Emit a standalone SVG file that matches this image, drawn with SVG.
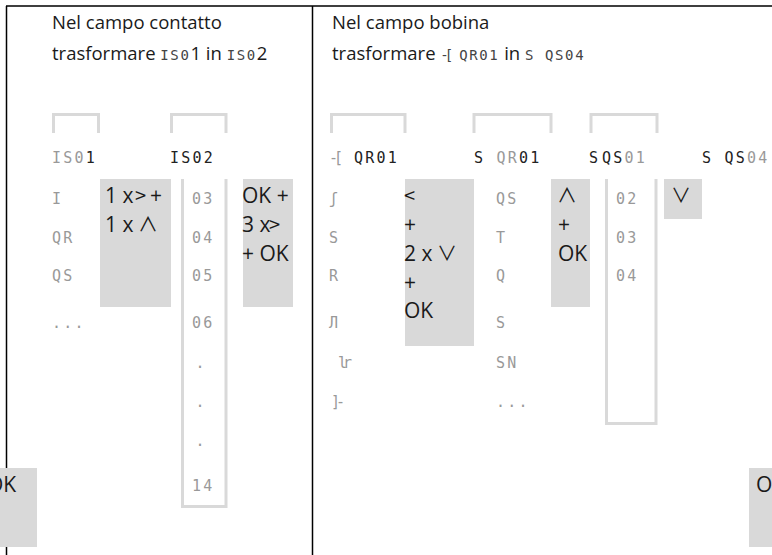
<svg xmlns="http://www.w3.org/2000/svg" width="772" height="555" viewBox="0 0 772 555">
<style>
.bg{fill:#fff}
.rule{stroke:#000;stroke-width:1.5;fill:none}
.box{fill:#d9d9d9}
.frame{fill:none;stroke:#d9d9d9;stroke-width:3}
.hdr{font-family:'Open Sans','Liberation Sans',sans-serif;font-size:18.5px;fill:#1a1a1a}
.key{font-family:'Open Sans','Liberation Sans',sans-serif;font-size:21px;fill:#1a1a1a}
.sym{font-family:'Noto Sans CJK JP','DejaVu Sans',sans-serif;font-size:20px;fill:#1a1a1a}
.lcd{font-family:'DejaVu Sans Mono','Liberation Mono',monospace;font-size:15px;letter-spacing:2.2px;fill:#999}
.hl{font-family:'DejaVu Sans Mono','Liberation Mono',monospace;font-size:14px;letter-spacing:1.6px;fill:#444}
.k{fill:#222}
.tight{letter-spacing:-4px}
</style>
<rect class="bg" x="0" y="0" width="772" height="555"/>

<g id="frame-lines">
<path class="rule" d="M6 6H772M6.5 6V555M312.5 6V555"/>
</g>

<g id="header-left">
<text class="hdr" x="52" y="29">Nel campo contatto</text>
<text class="hdr" x="52" y="60">trasformare <tspan class="hl">IS0</tspan>1 in <tspan class="hl">IS0</tspan>2</text>
</g>
<g id="header-right">
<text class="hdr" x="332" y="29">Nel campo bobina</text>
<text class="hdr" x="332" y="60">trasformare <tspan class="hl tight">-[</tspan><tspan class="hl"> QR01</tspan> in <tspan class="hl">S QS04</tspan></text>
</g>

<g id="brackets">
<path class="frame" d="M53.5 133V114.5H98.5V133"/>
<path class="frame" d="M171.5 133V114.5H226V133"/>
<path class="frame" d="M331.5 133V114.5H405V133"/>
<path class="frame" d="M474 133V114.5H551V133"/>
<path class="frame" d="M591 133V114.5H657V133"/>
</g>

<g id="key-boxes">
<rect class="box" x="100" y="179" width="71" height="128"/>
<rect class="box" x="243" y="179" width="50" height="128"/>
<rect class="box" x="405" y="179" width="69" height="167"/>
<rect class="box" x="551" y="179" width="39" height="128"/>
<rect class="box" x="664" y="179" width="38" height="40"/>
<rect class="box" x="0" y="468" width="37" height="79"/>
<rect class="box" x="749" y="468" width="23" height="79"/>
</g>

<g id="lists">
<path class="frame" d="M182.5 179V506.5H226V179"/>
<path class="frame" d="M606.5 179V423.5H656V179"/>
</g>

<g id="left-col1">
<text class="lcd" x="52" y="163">IS0<tspan class="k">1</tspan></text>
<text class="lcd" x="52" y="204">I</text>
<text class="lcd" x="52" y="242.5">QR</text>
<text class="lcd" x="52" y="280.5">QS</text>
<text class="lcd" x="52" y="328">...</text>
</g>
<g id="left-col2">
<text class="lcd k" x="170" y="163">IS02</text>
<text class="lcd" x="192" y="204">03</text>
<text class="lcd" x="192" y="242.5">04</text>
<text class="lcd" x="192" y="280.5">05</text>
<text class="lcd" x="192" y="328">06</text>
<text class="lcd" x="195.5" y="368">.</text>
<text class="lcd" x="195.5" y="407">.</text>
<text class="lcd" x="195.5" y="446">.</text>
<text class="lcd" x="192" y="491">14</text>
</g>

<g id="left-keys">
<text class="key" x="105" y="203">1 x</text><text class="sym" x="135" y="203">&gt;</text><text class="key" x="150" y="203">+</text>
<text class="key" x="105" y="232">1 x</text><text class="sym" x="138" y="232">∧</text>
<text class="key" x="242" y="203">OK +</text>
<text class="key" x="242" y="232">3 x</text><text class="sym" x="269" y="232">&gt;</text>
<text class="key" x="242" y="261">+ OK</text>
<text class="key" x="-13" y="492">OK</text>
</g>

<g id="right-col1">
<text class="lcd" x="329" y="163"><tspan class="tight">-[</tspan></text>
<text class="lcd k" x="354" y="163">QR01</text>
<text class="lcd" x="329" y="204">ʃ</text>
<text class="lcd" x="329" y="242.5">S</text>
<text class="lcd" x="329" y="280.5">R</text>
<text class="lcd" x="329" y="328">Л</text>
<text class="lcd" x="338" y="368"><tspan class="tight">lr</tspan></text>
<text class="lcd" x="331" y="407"><tspan class="tight">]-</tspan></text>
</g>
<g id="right-col2">
<text class="lcd" x="474" y="163"><tspan class="k">S </tspan>QR<tspan class="k">01</tspan></text>
<text class="lcd" x="496" y="204">QS</text>
<text class="lcd" x="496" y="242.5">T</text>
<text class="lcd" x="496" y="280.5">Q</text>
<text class="lcd" x="496" y="328">S</text>
<text class="lcd" x="496" y="368">SN</text>
<text class="lcd" x="496" y="407">...</text>
</g>
<g id="right-col3">
<text class="lcd k" x="589" y="163">S</text>
<text class="lcd" x="602" y="163"><tspan class="k">QS</tspan>01</text>
<text class="lcd" x="616" y="204">02</text>
<text class="lcd" x="616" y="242.5">03</text>
<text class="lcd" x="616" y="280.5">04</text>
</g>
<g id="right-col4">
<text class="lcd" x="702" y="163"><tspan class="k">S QS</tspan>04</text>
</g>

<g id="right-keys">
<text class="sym" x="404" y="203">&lt;</text>
<text class="key" x="404" y="232">+</text>
<text class="key" x="404" y="261">2 x</text><text class="sym" x="437" y="261">∨</text>
<text class="key" x="404" y="290">+</text>
<text class="key" x="404" y="318">OK</text>
<text class="sym" x="557" y="203">∧</text>
<text class="key" x="558" y="232">+</text>
<text class="key" x="558" y="261">OK</text>
<text class="sym" x="671" y="203">∨</text>
<text class="key" x="756" y="492">O</text>
</g>
</svg>
